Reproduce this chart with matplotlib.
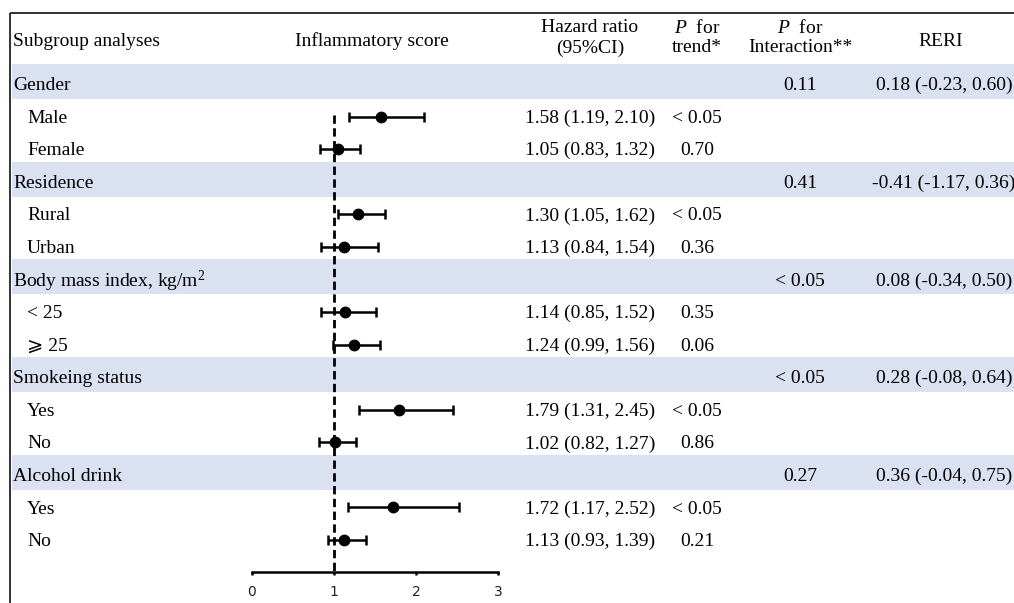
import numpy as np
import matplotlib
matplotlib.use("Agg")
import matplotlib.pyplot as plt

# ── Data ──────────────────────────────────────────────────────────────────────
labels = [
    "Gender", "Male", "Female",
    "Residence", "Rural", "Urban",
    "Body mass index, kg/m$^2$", "< 25", "\u2a7e 25",
    "Smokeing status", "Yes", "No",
    "Alcohol drink", "Yes", "No",
]
is_group = [True, False, False] * 5

hr    = [np.nan, 1.58, 1.05, np.nan, 1.30, 1.13, np.nan, 1.14, 1.24, np.nan, 1.79, 1.02, np.nan, 1.72, 1.13]
ci_lo = [np.nan, 1.19, 0.83, np.nan, 1.05, 0.84, np.nan, 0.85, 0.99, np.nan, 1.31, 0.82, np.nan, 1.17, 0.93]
ci_hi = [np.nan, 2.10, 1.32, np.nan, 1.62, 1.54, np.nan, 1.52, 1.56, np.nan, 2.45, 1.27, np.nan, 2.52, 1.39]

p_trend = ["", "< 0.05", "0.70", "", "< 0.05", "0.36", "", "0.35", "0.06",
           "", "< 0.05", "0.86", "", "< 0.05", "0.21"]
p_inter = ["0.11", "0.41", "< 0.05", "< 0.05", "0.27"]
reri    = ["0.18 (-0.23, 0.60)", "-0.41 (-1.17, 0.36)", "0.08 (-0.34, 0.50)",
           "0.28 (-0.08, 0.64)", "0.36 (-0.04, 0.75)"]

x_ticks = [0, 1, 2, 3]

# ── Layout (pixels of the 1014x603 canvas) ────────────────────────────────────
W, H = 1014, 603
ROW0, STEP = 84.0, 32.57          # centre of first row, row pitch
AX_Y, TOP_Y = 572.0, 13.0         # forest axis line, top border
X0_PX, X3_PX = 251.7, 498.0       # forest x = 0 and x = 3
TXT_DY = 0.05                     # text sits a touch below the row centre


def row(px):
    """pixel y -> row units"""
    return (px - ROW0) / STEP


plt.rcParams["font.family"] = ["Liberation Serif", "DejaVu Sans"]
plt.rcParams["mathtext.fontset"] = "custom"
plt.rcParams["mathtext.rm"] = "Liberation Serif"
plt.rcParams["mathtext.it"] = "Liberation Serif:italic"
FS = 14
SHADE = "#DAE1F0"

fig = plt.figure(figsize=(W / 100, H / 100), dpi=100)

# table axes: x in pixels, y in row units
ax = fig.add_axes([0, 0, 1, 1])
ax.set_xlim(0, W)
ax.set_ylim(row(H), row(0))
ax.axis("off")

# borders
ax.plot([10, 10], [row(TOP_Y), row(H)], color="#222222", lw=1.3, solid_capstyle="butt")
ax.plot([10, W], [row(TOP_Y), row(TOP_Y)], color="#222222", lw=1.3, solid_capstyle="butt")

# header
hy = row(41)
ax.text(13, hy, "Subgroup analyses", fontsize=FS, va="center", ha="left")
ax.text(372, hy, "Inflammatory score", fontsize=FS, va="center", ha="center")
ax.text(590, row(28), "Hazard ratio", fontsize=FS, va="center", ha="center")
ax.text(590, row(48), "(95%CI)", fontsize=FS, va="center", ha="center")
ax.text(697, row(28), "$P$  for", fontsize=FS, va="center", ha="center")
ax.text(697, row(48), "trend*", fontsize=FS, va="center", ha="center")
ax.text(800, row(28), "$P$  for", fontsize=FS, va="center", ha="center")
ax.text(800, row(48), "Interaction**", fontsize=FS, va="center", ha="center")
ax.text(941, hy, "RERI", fontsize=FS, va="center", ha="center")

# rows
g = 0
for i, lab in enumerate(labels):
    ty = i + TXT_DY
    if is_group[i]:
        ax.axhspan(i - 0.62, i + 0.46, xmin=12 / W, xmax=1, color=SHADE, lw=0, zorder=0)
        ax.text(13, ty, lab, fontsize=FS, va="center", ha="left")
        ax.text(800, ty, p_inter[g], fontsize=FS, va="center", ha="center")
        ax.text(944, ty, reri[g], fontsize=FS, va="center", ha="center")
        g += 1
    else:
        ax.text(27, ty, lab, fontsize=FS, va="center", ha="left")
        ax.text(590, ty, f"{hr[i]:.2f} ({ci_lo[i]:.2f}, {ci_hi[i]:.2f})",
                fontsize=FS, va="center", ha="center")
        ax.text(697, ty, p_trend[i], fontsize=FS, va="center", ha="center")

# forest axes
fa = fig.add_axes([X0_PX / W, (H - AX_Y) / H, (X3_PX - X0_PX) / W, (AX_Y - TOP_Y) / H])
fa.patch.set_alpha(0)
fa.set_xlim(0, 3)
fa.set_ylim(row(AX_Y), row(TOP_Y))
for s in ("top", "left", "right"):
    fa.spines[s].set_visible(False)
fa.spines["bottom"].set_linewidth(1.8)
fa.set_yticks([])
fa.set_xticks(x_ticks)
fa.set_xticklabels([str(t) for t in x_ticks], family="DejaVu Sans", fontsize=10,
                   color="#222222")
fa.tick_params(axis="x", direction="out", length=2.5, width=1.8, pad=7)

idx = np.arange(len(labels))
hr_a, lo_a, hi_a = np.array(hr), np.array(ci_lo), np.array(ci_hi)
m = ~np.isnan(hr_a)
fa.errorbar(hr_a[m], idx[m], xerr=[hr_a[m] - lo_a[m], hi_a[m] - hr_a[m]],
            fmt="o", color="black", ms=7.5, elinewidth=1.8, capsize=3.5,
            capthick=1.8, clip_on=False, zorder=3)
fa.vlines(1, row(115), row(AX_Y), colors="black", lw=2,
          linestyles=(0, (3, 1.6)), zorder=2)

fig.savefig("out.png", dpi=100)
